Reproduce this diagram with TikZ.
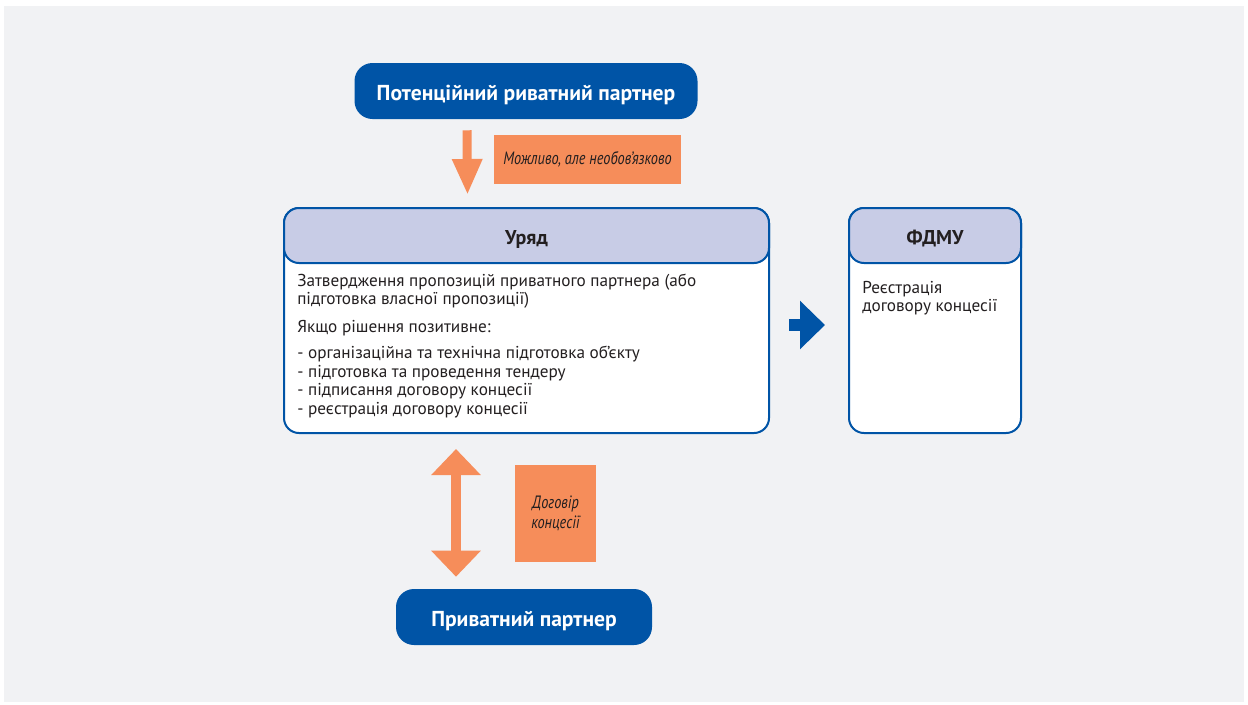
\documentclass[tikz,border=0pt]{standalone}
\usepackage{fontspec}
\setmainfont{PT Sans}
\newfontfamily\condfont{PT Sans}[FakeStretch=0.8]
\usetikzlibrary{arrows.meta,calc}
\definecolor{bgc}{HTML}{F1F2F4}
\definecolor{navy}{HTML}{0054A6}
\definecolor{lav}{HTML}{C8CCE6}
\definecolor{orng}{HTML}{F68D5A}
\definecolor{ink}{HTML}{231F20}
\newcommand\pxu{0.75pt}
\tikzset{
  darkbox/.style={rectangle, rounded corners=18*\pxu, fill=navy, text=white,
    font=\bfseries\fontsize{16.2}{19}\selectfont, inner sep=0pt,
    text height=14.4pt, text depth=0pt},
  panel/.style={rectangle, rounded corners=15*\pxu, fill=white, draw=navy, line width=2*\pxu, inner sep=0pt},
  panelhead/.style={rectangle, rounded corners=15*\pxu, fill=lav, draw=navy, line width=2*\pxu,
    text=ink, font=\bfseries\fontsize{15}{18}\selectfont, inner sep=0pt,
    text height=13.5pt, text depth=0pt},
  bodytext/.style={anchor=north west, inner sep=0pt, align=left, text=ink,
    font=\fontsize{12.9}{13.9}\selectfont},
  labelbox/.style={rectangle, fill=orng, text=ink, inner sep=0pt, align=center,
    font=\condfont\itshape\fontsize{13.4}{15}\selectfont},
  orarrow/.style={draw=orng, line width=9*\pxu},
}
\begin{document}
\begin{tikzpicture}[x=0.75pt,y=-0.75pt]
\useasboundingbox (0,0) rectangle (1248,704);
\fill[white] (0,0) rectangle (1248,704);
\fill[bgc] (4,6) rectangle (1244,702);

% top box
\node[darkbox, minimum width=343*\pxu, minimum height=56*\pxu] (pot) at (526,91) {Потенційний риватний партнер};

% government panel
\node[panel, minimum width=485*\pxu, minimum height=225*\pxu] (gov) at (526.5,320.5) {};
\node[panelhead, minimum width=485*\pxu, minimum height=55*\pxu] (govh) at (526.5,235.5) {Уряд};
\node[bodytext] (govt) at (297,273.5) {Затвердження пропозицій приватного партнера (або\\
підготовка власної пропозиції)\\[7pt]
Якщо рішення позитивне:\\[5.5pt]
- організаційна та технічна підготовка об’єкту\\
- підготовка та проведення тендеру\\
- підписання договору концесії\\
- реєстрація договору концесії};

% FDMU panel
\node[panel, minimum width=172*\pxu, minimum height=225*\pxu] (fdmu) at (935,320.5) {};
\node[panelhead, minimum width=172*\pxu, minimum height=55*\pxu] (fdmuh) at (935,235.5) {ФДМУ};
\node[bodytext] (fdmut) at (862,281) {Реєстрація\\договору концесії};

% bottom box
\node[darkbox, minimum width=256*\pxu, minimum height=56*\pxu] (priv) at (524,617) {Приватний партнер};

% labels
\node[labelbox, minimum width=187*\pxu, minimum height=49*\pxu] (lab1) at (587.5,159.5) {Можливо, але необов’язково};
\node[labelbox, minimum width=81*\pxu, minimum height=97*\pxu] (lab2) at (555.5,513.5) {Договір\\концесії};

% connectors
\draw[orarrow, -{Triangle[width=28*\pxu, length=36*\pxu]}]
  ([shift={(-59,11)}]pot.south) -- ([shift={(-59,-12)}]gov.north);
\draw[draw=orng, line width=10*\pxu, {Triangle[width=48*\pxu, length=26*\pxu]}-{Triangle[width=48*\pxu, length=26*\pxu]}]
  ([shift={(-70.5,15)}]gov.south) -- ([shift={(-68,-12)}]priv.north);
\draw[draw=navy, line width=12*\pxu, -{Triangle[width=47*\pxu, length=25*\pxu]}]
  ([shift={(19,4.5)}]gov.east) -- ([shift={(-23,4.5)}]fdmu.west);
\end{tikzpicture}
\end{document}
